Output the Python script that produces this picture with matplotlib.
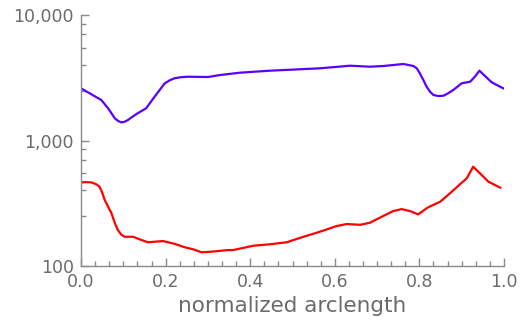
import matplotlib
matplotlib.use("Agg")
import matplotlib.pyplot as plt
from matplotlib.ticker import FixedLocator, FuncFormatter, NullFormatter

# blue curve (upper)
s_blue = [0.0, 0.048, 0.064, 0.080, 0.088, 0.095, 0.102, 0.111, 0.131, 0.154,
          0.174, 0.198, 0.210, 0.221, 0.235, 0.253, 0.300, 0.329, 0.376, 0.447,
          0.565, 0.636, 0.683, 0.715, 0.762, 0.786, 0.794, 0.801, 0.809, 0.817,
          0.825, 0.833, 0.845, 0.857, 0.868, 0.880, 0.900, 0.920, 0.931, 0.942,
          0.955, 0.971, 0.998]
v_blue = [2606, 2102, 1806, 1502, 1430, 1396, 1405, 1457, 1626, 1806,
          2234, 2855, 3020, 3131, 3190, 3222, 3205, 3325, 3470, 3600,
          3760, 3945, 3873, 3923, 4070, 3923, 3750, 3430, 3050, 2685,
          2450, 2305, 2260, 2275, 2380, 2525, 2857, 2941, 3221, 3600,
          3265, 2908, 2606]

# red curve (lower)
s_red = [0.0, 0.012, 0.024, 0.035, 0.044, 0.050, 0.056, 0.072, 0.080, 0.087,
         0.095, 0.103, 0.123, 0.139, 0.158, 0.194, 0.222, 0.245, 0.265, 0.285,
         0.308, 0.348, 0.360, 0.407, 0.447, 0.486, 0.526, 0.565, 0.604, 0.628,
         0.660, 0.683, 0.699, 0.738, 0.758, 0.778, 0.797, 0.821, 0.849, 0.872,
         0.896, 0.912, 0.927, 0.943, 0.963, 0.991]
v_red = [464, 466, 464, 450, 428, 385, 336, 263, 220, 194,
         178, 171, 171, 163, 154.5, 158, 150, 141, 136, 128.5,
         130, 134, 134, 145, 149, 154.5, 171, 187.6, 208, 216,
         213, 221, 235.6, 274, 284, 274, 258, 294, 325, 379,
         448, 500, 618, 548, 470, 421]

x_major = [0.0, 0.2, 0.4, 0.6, 0.8, 1.0]
y_major = [100, 1000, 10000]

gray = "#8a8a8a"
txt = "#6b6b6b"

fig = plt.figure(figsize=(5.22, 3.26), dpi=100)
ax = fig.add_axes([81 / 522, 1 - 266 / 326, 423 / 522, 251 / 326])

ax.plot(s_blue, v_blue, color="#5a00ff", lw=1.6, solid_joinstyle="round")
ax.plot(s_red, v_red, color="#ff0000", lw=1.6, solid_joinstyle="round")

ax.set_yscale("log")
ax.set_xlim(0, 1)
ax.set_ylim(100, 10000)

for side in ["top", "right"]:
    ax.spines[side].set_visible(False)
for side in ["left", "bottom"]:
    ax.spines[side].set_color(gray)
    ax.spines[side].set_linewidth(1.0)

ax.xaxis.set_major_locator(FixedLocator(x_major))
ax.xaxis.set_minor_locator(FixedLocator([i / 30 for i in range(31) if i % 6]))
ax.xaxis.set_major_formatter(FuncFormatter(lambda v, p: "%.1f" % v))

minors = []
for dec in [100, 1000]:
    for m in [2.5, 4.0, 5.5, 7.0, 8.5]:
        minors.append(dec * m)
ax.yaxis.set_major_locator(FixedLocator(y_major))
ax.yaxis.set_minor_locator(FixedLocator(minors))
ax.yaxis.set_major_formatter(FuncFormatter(lambda v, p: "{:,.0f}".format(v)))
ax.yaxis.set_minor_formatter(NullFormatter())

ax.tick_params(which="both", direction="in", color=gray, width=1.0,
               labelcolor=txt, labelsize=12.5)
ax.tick_params(which="major", length=6)
ax.tick_params(which="minor", length=3.5)
ax.tick_params(axis="y", which="major", pad=5)
ax.tick_params(axis="x", which="major", pad=5)

ax.set_xlabel("normalized arclength", fontsize=15.5, color=txt, labelpad=4)

fig.savefig("out.png", dpi=100)
